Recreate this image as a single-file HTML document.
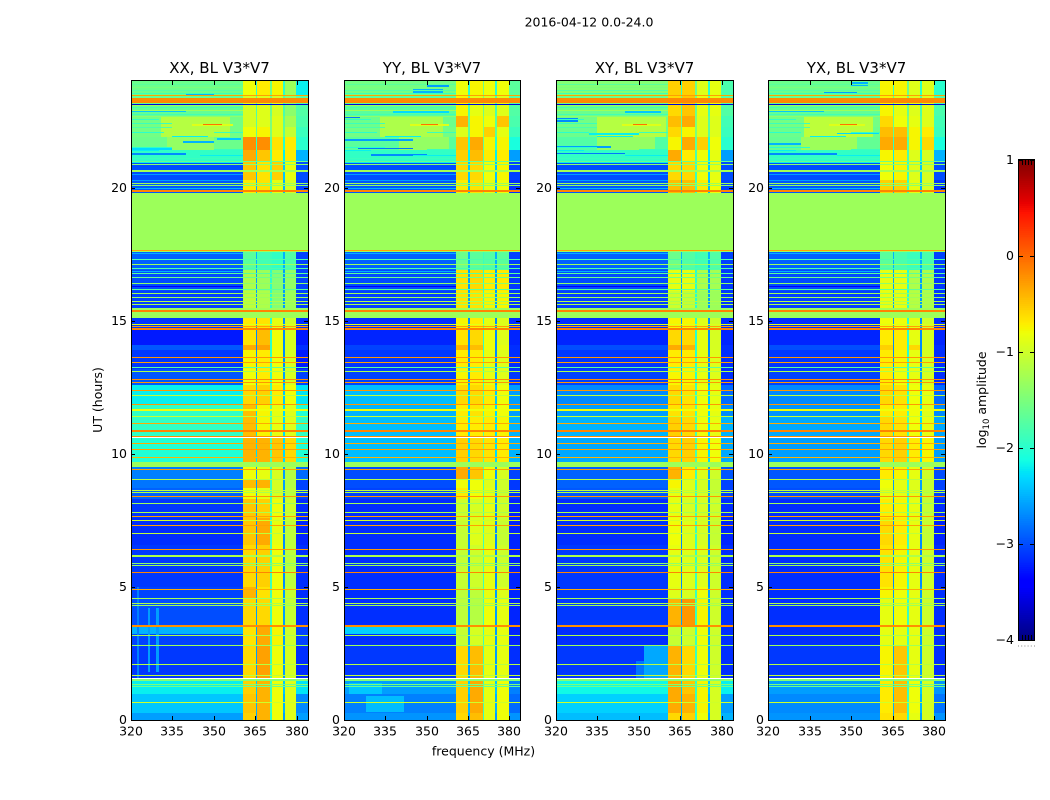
<!DOCTYPE html>
<html>
<head>
<meta charset="utf-8">
<title>2016-04-12 amplitude waterfall</title>
<style>
html,body{margin:0;padding:0;background:#fff;width:1050px;height:800px;overflow:hidden}
svg{display:block}
text{font-family:"DejaVu Sans","Liberation Sans",sans-serif;fill:#000}
</style>
</head>
<body>
<svg id="figure" xmlns="http://www.w3.org/2000/svg" width="1050" height="800" viewBox="0 0 1050 800">
<rect x="0" y="0" width="1050" height="800" fill="#fff"/>
<text x="589" y="26.5" font-size="12.5" text-anchor="middle">2016-04-12 0.0-24.0</text>
<text x="102" y="400" font-size="12.5" text-anchor="middle" transform="rotate(-90 102 400)">UT (hours)</text>
<text x="483.5" y="755.5" font-size="12.5" text-anchor="middle">frequency (MHz)</text>
<text x="986" y="400" font-size="12.5" text-anchor="middle" transform="rotate(-90 986 400)">log<tspan font-size="8.5" dy="3">10</tspan><tspan dy="-3"> amplitude</tspan></text>
<g id="panels"></g>
<g id="colorbar"></g>
</svg>
<script>
// ---- data: log10 amplitude ----
const panelTitles = ["XX, BL V3*V7", "YY, BL V3*V7", "XY, BL V3*V7", "YX, BL V3*V7"];
const freqTicks = [320, 335, 350, 365, 380];
const utTicks = [0, 5, 10, 15, 20];
const colorbarTicks = [1, 0, -1, -2, -3, -4];
const colorbarMinorTicks = [0.2, 0.4, 0.6, 0.8];
const freqDomain = [320, 384];
const utDomain = [0, 24];
const ampDomain = [-4, 1];

// frequency edges of the column groups, MHz
const bgChannels = [320, 360.6];
const band1Channels = [360.6, 365.1];
const slit1Channels = [365.1, 365.6];
const band2Channels = [365.6, 370.3];
const slit2Channels = [370.3, 370.9];
const band3Channels = [370.9, 374.9];
const slit3Channels = [374.9, 375.7];
const band4Channels = [375.7, 379.9];
const rightChannels = [379.9, 384];

// time edges of the rows, hours
const utEdges = [0,.25,1,1.55,2.8,3.5,4.6,5,6.6,7.6,8.3,8.7,9,9.5,9.7,10.6,11.4,11.9,12.6,13.2,13.9,14.1,14.7,15.1,15.45,16.1,16.9,17.6,19.8,20.3,21,21.4,21.9,22.3,22.7,23.45,24];

// notch channel amplitudes per row, shared by the panels
const slitOuter = [-2.6,-2.5,-2.4,-2.6,-2.6,-2.6,-2.6,-2.7,-2.7,-2.7,-2.6,-2.6,-2.6,-1.3,-2.3,-2.3,-2.3,-2.4,-2.6,-2.7,-2.7,-2.7,-2.7,-1.3,-2.6,-2.6,-2.5,-1.3,-2.5,-2.4,-2.2,-2.0,-1.7,-1.7,-1.8,-2.0];
const slitInner = [-2.0,-1.9,-1.9,-1.9,-1.9,-1.9,-1.9,-1.9,-1.9,-1.9,-1.9,-1.9,-1.9,-1.3,-1.8,-1.8,-1.8,-1.9,-2.0,-2.0,-2.0,-2.0,-2.0,-1.3,-2.0,-2.0,-1.9,-1.3,-1.9,-1.9,-1.8,-1.7,-1.5,-1.5,-1.6,-1.6];

// rows: [background, band1, band2, band3, band4, right edge]
const rowsXX = [
[-2.6,-.55,-.4,-.8,-.9,-2.6],[-2.4,-.5,-.4,-.8,-.9,-2.7],[-2.2,-.55,-.4,-.8,-.9,-2.25],[-3.1,-.6,-.3,-.8,-.95,-3.15],
[-3.05,-.65,-.35,-.75,-1,-3.05],[-3,-.6,-.6,-.8,-1.05,-3.15],[-3.05,-.4,-.65,-.8,-1.05,-3.15],[-3.1,-.6,-.55,-.8,-1.1,-3.15],
[-3.15,-.5,-.35,-.85,-1.1,-3.2],[-3.1,-.5,-.55,-.8,-1,-3.15],[-2.9,-.8,-.85,-.95,-1.1,-3.05],[-2.8,-.45,-.4,-.95,-1.15,-3.05],
[-2.75,-.8,-.85,-.95,-1.15,-2.85],[-1.3,-1.3,-1.3,-1.3,-1.3,-1.3],[-2.05,-.4,-.4,-.5,-.6,-2.05],[-1.95,-.45,-.75,-.85,-.9,-1.95],
[-1.95,-.45,-.75,-.85,-.9,-2.05],[-2.2,-.6,-.55,-.7,-.8,-2.25],[-2.95,-.8,-.7,-.8,-.95,-3.05],[-3.1,-.75,-.7,-.8,-.95,-3.25],
[-2.95,-.35,-.3,-.8,-.95,-3.15],[-3.25,-.65,-.45,-.8,-.95,-3.25],[-3.1,-.7,-.65,-.85,-1,-3.15],[-1.3,-1.3,-1.3,-1.3,-1.3,-1.3],
[-3.05,-1.1,-1.2,-1.45,-1.3,-3.05],[-3,-1.2,-1.3,-1.45,-1.35,-3.05],[-2.9,-1.7,-1.85,-1.95,-1.75,-3.05],[-1.3,-1.3,-1.3,-1.3,-1.3,-1.3],
[-2.95,-.7,-.65,-.85,-.95,-3.05],[-3,-.5,-.65,-.55,-.85,-3],[-1.95,-.35,-.5,-.7,-.7,-2.5],[-1.6,-.2,-.2,-.65,-.7,-2],
[-1.55,-.8,-.75,-.9,-1.05,-1.9],[-1.55,-.95,-.9,-.9,-1.25,-1.8],[-1.65,-.95,-.9,-.95,-1.4,-1.75],[-1.6,-.8,-.7,-.75,-1.3,-2.2]];

const rowsYY = [
[-2.65,-.6,-.45,-.85,-.8,-2.65],[-2.75,-.55,-.35,-.85,-.8,-2.85],[-2.6,-.55,-.35,-.85,-.8,-2.75],[-3.1,-.6,-.45,-.85,-.85,-3.15],
[-3.15,-1.05,-.95,-.85,-.85,-3.2],[-3.15,-1.1,-1.15,-.8,-.85,-3.2],[-3.15,-1.1,-1.1,-.85,-.9,-3.2],[-3.15,-1.05,-1,-.85,-1,-3.2],
[-3.15,-1.05,-.9,-.9,-1.05,-3.2],[-3.15,-1,-.95,-.85,-1,-3.2],[-3.05,-.7,-.8,-.85,-1,-3.1],[-3,-.8,-.8,-.9,-1,-3.1],
[-3,-.35,-.5,-.8,-.95,-3.05],[-1.3,-1.3,-1.3,-1.3,-1.3,-1.3],[-2.45,-.55,-.6,-.65,-.7,-2.5],[-2.45,-.7,-.7,-.7,-.75,-2.5],
[-2.5,-.7,-.65,-.75,-.8,-2.6],[-2.45,-.6,-.6,-.7,-.8,-2.6],[-3.05,-.75,-.7,-.85,-.9,-3.1],[-3.1,-.7,-.7,-.85,-.9,-3.15],
[-3.05,-.4,-.45,-.8,-.85,-3.15],[-3.2,-.65,-.6,-.8,-.9,-3.2],[-3.15,-.75,-.7,-.85,-.9,-3.15],[-1.3,-1.3,-1.3,-1.3,-1.3,-1.3],
[-3.05,-.65,-.65,-.75,-.75,-3.1],[-3,-.65,-.6,-.7,-.7,-3.1],[-2.9,-1.6,-1.7,-1.75,-1.7,-3.05],[-1.3,-1.3,-1.3,-1.3,-1.3,-1.3],
[-2.95,-.7,-.65,-.85,-.8,-3.15],[-3,-.6,-.6,-.8,-.75,-3.05],[-1.95,-.55,-.45,-.7,-.7,-2.6],[-1.7,-.5,-.35,-.75,-.75,-2.1],
[-1.55,-.9,-.75,-.55,-.85,-1.9],[-1.6,-.4,-.75,-.8,-.5,-1.8],[-1.7,-.75,-.85,-.9,-.9,-1.75],[-1.55,-.8,-.75,-.8,-.8,-1.7]];

const rowsXY = [
[-2.45,-.6,-.55,-.8,-.95,-2.5],[-2.35,-.35,-.4,-.75,-.95,-2.6],[-2.15,-.35,-.5,-.75,-.95,-2.2],[-3.1,-.4,-.6,-.8,-1,-3.15],
[-3.15,-1.05,-1,-.8,-1,-3.15],[-3.1,-.4,-.25,-.75,-1,-3.15],[-3.1,-.9,-.95,-.8,-1,-3.15],[-3.1,-.85,-.9,-.9,-1,-3.15],
[-3.15,-.8,-.9,-.95,-1.05,-3.2],[-3.15,-.85,-.95,-.95,-1,-3.15],[-2.95,-.85,-.9,-.95,-1.05,-3.05],[-2.9,-.75,-.9,-.95,-1.05,-3.05],
[-2.9,-.4,-.7,-.9,-1,-2.95],[-1.3,-1.3,-1.3,-1.3,-1.3,-1.3],[-2.55,-.6,-.55,-.75,-.8,-2.55],[-2.5,-.55,-.6,-.8,-.85,-2.5],
[-2.6,-.65,-.65,-.8,-.85,-2.7],[-2.7,-.6,-.65,-.8,-.85,-2.85],[-3.05,-.75,-.75,-.85,-.9,-3.15],[-3.1,-.7,-.7,-.85,-.9,-3.15],
[-3,-.35,-.4,-.85,-.95,-3.15],[-3.2,-.6,-.6,-.85,-.95,-3.2],[-3.15,-.75,-.75,-.9,-1,-3.15],[-1.3,-1.3,-1.3,-1.3,-1.3,-1.3],
[-3.05,-1,-1.05,-1.3,-1.3,-3.1],[-3,-.85,-.85,-1.2,-1.25,-3.1],[-2.9,-1.6,-1.75,-1.85,-1.75,-3.05],[-1.3,-1.3,-1.3,-1.3,-1.3,-1.3],
[-2.95,-.45,-.45,-.7,-.8,-3.05],[-3,-.6,-.6,-.8,-.85,-3],[-1.95,-.35,-.7,-.8,-.85,-2.6],[-1.75,-.75,-.35,-.55,-.8,-2],
[-1.6,-.6,-.75,-.9,-.9,-1.9],[-1.55,-.45,-.35,-.9,-.9,-1.85],[-1.6,-.6,-.5,-.85,-.85,-1.75],[-1.45,-.55,-.55,-.9,-.85,-1.8]];

const rowsYX = [
[-2.65,-.65,-.6,-.85,-.95,-2.65],[-2.7,-.7,-.45,-.8,-.95,-2.8],[-2.6,-.7,-.45,-.8,-.95,-2.65],[-3.1,-.75,-.5,-.85,-1,-3.15],
[-3.15,-.85,-.85,-.85,-1,-3.15],[-3.15,-.85,-.8,-.85,-1,-3.15],[-3.15,-.75,-.8,-.85,-1,-3.15],[-3.15,-.65,-.75,-.85,-1,-3.15],
[-3.15,-.6,-.7,-.85,-1.05,-3.2],[-3.15,-.7,-.75,-.85,-1.05,-3.15],[-3,-.85,-.85,-.9,-1.05,-3.05],[-2.95,-.8,-.85,-.9,-1.05,-3.05],
[-2.95,-.7,-.75,-.85,-1,-3],[-1.3,-1.3,-1.3,-1.3,-1.3,-1.3],[-2.6,-.6,-.55,-.7,-.75,-2.6],[-2.55,-.6,-.65,-.8,-.85,-2.55],
[-2.65,-.7,-.7,-.8,-.9,-2.7],[-2.7,-.6,-.65,-.8,-.85,-2.85],[-3.05,-.7,-.8,-.85,-.95,-3.15],[-3.1,-.7,-.75,-.85,-.95,-3.15],
[-3,-.55,-.7,-.6,-.95,-3.15],[-3.2,-.7,-.7,-.85,-.95,-3.2],[-3.15,-.8,-.8,-.85,-1,-3.15],[-1.3,-1.3,-1.3,-1.3,-1.3,-1.3],
[-3.05,-.85,-.85,-1.15,-1.2,-3.1],[-3,-.85,-.85,-1.2,-1.2,-3.1],[-2.9,-1.7,-1.8,-1.9,-1.8,-3.05],[-1.3,-1.3,-1.3,-1.3,-1.3,-1.3],
[-2.95,-.55,-.55,-.85,-.95,-3.1],[-3,-.8,-.75,-.9,-.95,-3],[-1.95,-.75,-.7,-.9,-.95,-2.5],[-1.65,-.35,-.35,-.75,-.6,-2.1],
[-1.6,-.45,-.45,-.75,-.7,-1.9],[-1.55,-.6,-.8,-.85,-.9,-1.85],[-1.65,-.75,-.85,-.9,-.9,-1.8],[-1.6,-.75,-.75,-.9,-.9,-2]];

const panelRows = [rowsXX, rowsYY, rowsXY, rowsYX];

// full-width interference lines: [UT hour, duration in hours, amplitude]
const rfiLines = [
[.66,.04,-1],[1.25,.04,-1.6],[1.34,.04,-1.5],[1.5,.08,-1.45],[1.67,.04,-1.1],[2.09,.04,-1.15],[2.8,.04,-1.3],[3.19,.04,-1.2],[3.52,.09,-.2],
[4.29,.04,-1.3],[4.36,.04,-1.2],[4.55,.04,-1.25],[4.9,.04,-.35],[5.54,.04,-.15],[5.79,.04,-1.3],[5.875,.04,-1.4],[6.15,.08,-1.2],[6.4,.04,-.25],
[7,.04,-1.1],[7.3,.04,-.3],[7.5,.04,-1],[7.66,.04,-.3],[7.81,.04,-1.2],[8.12,.04,-1.3],[8.4,.04,-.25],[8.55,.04,-1.2],[8.62,.04,-1.1],
[9.05,.04,-1.15],[9.4,.04,-.3],[9.87,.04,-.4],[10.15,.04,-.3],[10.37,.04,-.35],[10.66,.04,-.2],[10.86,.09,-.15],[11.12,.04,-.35],[11.4,.04,-1.05],
[11.65,.07,-.8],[11.84,.04,-.25],[12.17,.04,-1.1],[12.36,.04,-.25],[12.66,.04,-.25],[12.8,.04,-.2],[13.1,.04,-1.2],[13.25,.03,-1.7],[13.44,.04,-.3],[13.62,.04,-.25],
[14.68,.08,-.15],[14.79,.04,-.3],[14.87,.04,-.9],[15.37,.07,-.15],[15.47,.04,-1.3],[15.6,.04,-1.25],[15.72,.04,-1.2],[15.87,.04,-1.3],[16.02,.04,-1.3],[16.15,.04,-1.7],
[16.4,.04,-1.4],[16.6,.04,-1.6],[16.75,.04,-1.7],[16.95,.04,-1.8],[17.12,.04,-1.3],[17.3,.04,-1.8],[17.62,.04,-.3],
[19.85,.08,-.15],[20.07,.04,-1.4],[20.16,.04,-1.3],[20.62,.08,-1.25],[20.85,.04,-1.4],[20.97,.04,-1.6],[23.12,.05,-3.6],[23.27,.2,-.18],[23.44,.04,-.3]];

// stripes shared by all panels: [UT hour, duration, start MHz, end MHz, amplitude]
const topStripes = [
[23.87,.05,320,360.6,-1.7],[23.75,.05,320,360.6,-1.5],[23.62,.05,320,360.6,-1.75],[23.52,.04,320,360.6,-1.9],
[23.06,.05,320,360.6,-1.3],[23,.04,320,360.6,-1.8],[22.9,.05,320,360.6,-1.3],[22.75,.05,320,360.6,-1.85],[22.67,.04,320,360.6,-1.4],
[22.53,.05,320,330,-1.95],[22.38,.05,320,335,-1.9],[22.25,.05,320,335,-1.8],[22.06,.05,320,332,-2],[22.06,.04,350,360.6,-1.9],
[21.9,.04,335,348,-2.2],[21.5,.05,320,335,-2],[21.44,.04,350,360.6,-1.9],[21.37,.05,320,330,-2.2],[21.19,.05,345,360.6,-2.2],[21.1,.04,320,360.6,-1.9],
[20.95,.04,320,360.6,-2.2],[20.5,.04,320,360.6,-2.6],[20.28,.04,320,360.6,-2.6],[19.97,.04,320,360.6,-2.5],[16.85,.05,320,360.6,-2.5],[17.5,.05,320,360.6,-2.5],[16.28,.05,320,360.6,-3.4]];

// detail patches: [panel, start hour, end hour, start MHz, end MHz, amplitude]
const detailPatches = [
[0,3.25,3.5,320,360.6,-2.5],[1,3.25,3.5,320,360.6,-2.35],[1,.3,.9,328,342,-2.45],[1,1,1.4,322,334,-2.4],
[2,1.55,2.8,352,360.6,-2.55],[2,1.55,2.2,349,352,-2.8],[0,1.8,4.2,326,327,-2.6],[0,1.8,4.2,329,330,-2.6],[0,1.6,5,322,323,-2.75],
[0,21.9,22.7,331,356,-1.15],[0,21.4,21.9,333,350,-1.35],[0,22.33,22.4,342,357,-.9],[0,22.35,22.39,346,353,-.05],
[1,21.9,22.7,333,356,-1.2],[1,21.4,21.9,340,358,-1.35],[1,22.33,22.4,344,358,-.9],[1,22.35,22.39,348,354,-.05],
[2,21.9,22.7,335,360,-1.15],[2,21.4,21.9,335,356,-1.35],[2,22.33,22.4,344,358,-.9],[2,22.35,22.39,348,353,-.05],
[3,21.9,22.7,333,358,-1.1],[3,21.4,21.9,332,352,-1.3],[3,22.33,22.4,342,355,-.9],[3,22.35,22.39,346,352,-.05],
[0,22.84,22.9,320,340,-2.4],[0,21.7,21.76,339,350,-2.5],[0,21.8,21.86,351,360,-2.4],[0,21.22,21.29,320,340,-2.7],[0,21.42,21.48,320,335,-2.3],[0,23.5,23.56,340,350,-2.5],
[1,23.55,23.7,345,356,-2.5],[1,23.75,23.9,350,358,-2.6],[1,22.6,22.68,320,326,-2.8],[1,21.75,21.82,320,345,-2.6],[1,21.45,21.5,325,345,-2.8],[1,21.2,21.26,330,350,-2.7],[1,22.8,22.86,338,358,-2.3],
[2,22.45,22.6,320,328,-2.7],[2,21.5,21.56,320,340,-2.6],[2,21.25,21.3,320,345,-2.8],[2,22.8,22.86,345,358,-2.4],[2,22.0,22.06,332,350,-2.2],
[3,23.5,23.58,340,352,-2.6],[3,23.8,23.95,350,356,-2.5],[3,21.22,21.3,320,345,-2.7],[3,21.6,21.66,320,332,-2.5],[3,22.85,22.92,320,340,-2.4],[3,22.0,22.05,345,360,-2.3]];

// ---- axis setup ----
const panelLefts = [131, 343.7, 556, 768.3];
const panelWidth = 176.7;
const plotTop = 81;
const plotBottom = 720;
const cbLeft = 1019;
const cbRight = 1034;
const cbTop = 160;
const cbBottom = 640;
const svgNS = "http://www.w3.org/2000/svg";
const panelsRoot = document.getElementById("panels");
const cbRoot = document.getElementById("colorbar");

function xScale(panel, mhz) {
  return panelLefts[panel] + (mhz - freqDomain[0]) / (freqDomain[1] - freqDomain[0]) * panelWidth;
}
function yScale(hour) {
  return plotBottom - (hour - utDomain[0]) / (utDomain[1] - utDomain[0]) * (plotBottom - plotTop);
}
function ampY(value) {
  return cbBottom - (value - ampDomain[0]) / (ampDomain[1] - ampDomain[0]) * (cbBottom - cbTop);
}
function piece(stops, f) {
  for (let i = 1; i < stops.length; i++) {
    if (f <= stops[i][0]) {
      const a = stops[i - 1];
      const b = stops[i];
      return a[1] + (b[1] - a[1]) * (f - a[0]) / (b[0] - a[0]);
    }
  }
  return stops[stops.length - 1][1];
}
const jetRed = [[0,0],[.35,0],[.66,1],[.89,1],[1,.5]];
const jetGreen = [[0,0],[.125,0],[.375,1],[.64,1],[.91,0],[1,0]];
const jetBlue = [[0,.5],[.11,1],[.34,1],[.65,0],[1,0]];
function colorOf(value) {
  const f = Math.min(1, Math.max(0, (value - ampDomain[0]) / (ampDomain[1] - ampDomain[0])));
  const r = Math.round(255 * piece(jetRed, f));
  const g = Math.round(255 * piece(jetGreen, f));
  const b = Math.round(255 * piece(jetBlue, f));
  return "rgb(" + r + "," + g + "," + b + ")";
}
function drawCell(parent, panel, f0, f1, t0, t1, value, name) {
  const r = document.createElementNS(svgNS, "rect");
  const x0 = Math.round(xScale(panel, f0));
  const x1 = Math.round(xScale(panel, f1));
  const y0 = Math.round(yScale(t1));
  const h = Math.max(1, Math.round(yScale(t0) - yScale(t1)));
  r.setAttribute("x", x0);
  r.setAttribute("y", y0);
  r.setAttribute("width", Math.max(1, x1 - x0));
  r.setAttribute("height", h);
  r.setAttribute("fill", colorOf(value));
  
  
  parent.appendChild(r);
}
function drawLine(parent, x1, y1, x2, y2, name) {
  const l = document.createElementNS(svgNS, "line");
  l.setAttribute("x1", x1);
  l.setAttribute("y1", y1);
  l.setAttribute("x2", x2);
  l.setAttribute("y2", y2);
  l.setAttribute("stroke", "#000");
  l.setAttribute("stroke-width", "1");
  l.setAttribute("shape-rendering", "crispEdges");
  
  
  parent.appendChild(l);
}
function drawText(parent, x, y, str, size, anchor, name) {
  const t = document.createElementNS(svgNS, "text");
  t.setAttribute("x", x);
  t.setAttribute("y", y);
  t.setAttribute("font-size", size);
  t.setAttribute("text-anchor", anchor);
  t.textContent = str;
  
  
  parent.appendChild(t);
}

// ---- panels ----
panelTitles.forEach(function (title, p) {
  const g = document.createElementNS(svgNS, "g");
  
  
  g.setAttribute("shape-rendering", "crispEdges");
  panelsRoot.appendChild(g);
  const rows = panelRows[p];
  rows.forEach(function (row, i) {
    const t0 = utEdges[i];
    const t1 = utEdges[i + 1];
    drawCell(g, p, bgChannels[0], bgChannels[1], t0, t1, row[0], 'heatmap-cell');
    drawCell(g, p, band1Channels[0], band1Channels[1], t0, t1, row[1], 'heatmap-cell');
    drawCell(g, p, slit1Channels[0], slit1Channels[1], t0, t1, slitOuter[i], 'heatmap-cell');
    drawCell(g, p, band2Channels[0], band2Channels[1], t0, t1, row[2], 'heatmap-cell');
    drawCell(g, p, slit2Channels[0], slit2Channels[1], t0, t1, slitInner[i], 'heatmap-cell');
    drawCell(g, p, band3Channels[0], band3Channels[1], t0, t1, row[3], 'heatmap-cell');
    drawCell(g, p, slit3Channels[0], slit3Channels[1], t0, t1, slitOuter[i], 'heatmap-cell');
    drawCell(g, p, band4Channels[0], band4Channels[1], t0, t1, row[4], 'heatmap-cell');
    drawCell(g, p, rightChannels[0], rightChannels[1], t0, t1, row[5], 'heatmap-cell');
  });
  detailPatches.forEach(function (d) {
    if (d[0] === p) {
      drawCell(g, p, d[3], d[4], d[1], d[2], d[5], 'heatmap-detail');
    }
  });
  topStripes.forEach(function (s) {
    drawCell(g, p, s[2], s[3], s[0] - s[1] / 2, s[0] + s[1] / 2, s[4], 'heatmap-stripe');
  });
  rfiLines.forEach(function (l) {
    drawCell(g, p, freqDomain[0], freqDomain[1], l[0] - l[1] / 2, l[0] + l[1] / 2, l[2], 'interference-line');
  });

  const left = Math.round(xScale(p, freqDomain[0]));
  const right = Math.round(xScale(p, freqDomain[1]));
  const frame = document.createElementNS(svgNS, "rect");
  frame.setAttribute("x", left + .5);
  frame.setAttribute("y", plotTop - .5);
  frame.setAttribute("width", right - left);
  frame.setAttribute("height", plotBottom - plotTop + 1);
  frame.setAttribute("fill", "none");
  frame.setAttribute("stroke", "#000");
  
  
  g.appendChild(frame);

  freqTicks.forEach(function (tick) {
    const x = Math.round(xScale(p, tick)) + .5;
    drawLine(g, x, plotBottom, x, plotBottom - 4, 'x-tick');
    drawLine(g, x, plotTop, x, plotTop + 4, 'x-tick-top');
    drawText(panelsRoot, x - .5, plotBottom + 15.5, String(tick), 12.5, "middle", 'x-tick-label');
  });
  utTicks.forEach(function (tick) {
    const y = Math.round(yScale(tick)) + .5;
    drawLine(g, left, y, left + 4, y, 'y-tick');
    drawLine(g, right, y, right - 4, y, 'y-tick-right');
    drawText(panelsRoot, left - 4, y + 3.5, String(tick), 12.5, "end", 'y-tick-label');
  });
  drawText(panelsRoot, (left + right) / 2, 73, title, 15, "middle", 'panel-title');
});

// ---- colorbar ----
for (let v = ampDomain[1]; v > ampDomain[0]; v -= 0.02) {
  const r = document.createElementNS(svgNS, "rect");
  r.setAttribute("x", cbLeft);
  r.setAttribute("y", ampY(v).toFixed(2));
  r.setAttribute("width", cbRight - cbLeft);
  r.setAttribute("height", "2.2");
  r.setAttribute("fill", colorOf(v - 0.01));
  r.setAttribute("shape-rendering", "crispEdges");
  
  
  cbRoot.appendChild(r);
}
const cbFrame = document.createElementNS(svgNS, "rect");
cbFrame.setAttribute("x", cbLeft - .5);
cbFrame.setAttribute("y", cbTop - .5);
cbFrame.setAttribute("width", cbRight - cbLeft + 1);
cbFrame.setAttribute("height", cbBottom - cbTop + 1);
cbFrame.setAttribute("fill", "none");
cbFrame.setAttribute("stroke", "#000");
cbFrame.setAttribute("shape-rendering", "crispEdges");


cbRoot.appendChild(cbFrame);
colorbarTicks.forEach(function (tick) {
  const y = Math.round(ampY(tick)) + .5;
  drawLine(cbRoot, cbLeft, y, cbLeft + 4, y, 'colorbar-tick');
  drawLine(cbRoot, cbRight, y, cbRight - 4, y, 'colorbar-tick-right');
  const label = tick < 0 ? "\u2212" + Math.abs(tick) : String(tick);
  drawText(cbRoot, cbLeft - 5, y + 3.5, label, 12.5, "end", 'colorbar-tick-label');
});
colorbarMinorTicks.forEach(function (frac) {
  const x = Math.round(cbLeft + frac * (cbRight - cbLeft)) + .5;
  drawLine(cbRoot, x, cbTop, x, cbTop + 5, 'colorbar-minor-tick-top');
  drawLine(cbRoot, x, cbBottom, x, cbBottom - 5, 'colorbar-minor-tick-bottom');
});
[0, 0.2, 0.4, 0.6, 0.8, 1].forEach(function (frac) {
  const dot = document.createElementNS(svgNS, "rect");
  dot.setAttribute("x", cbLeft - 1 + frac * (cbRight - cbLeft + 1));
  dot.setAttribute("y", cbBottom + 5.5);
  dot.setAttribute("width", "1");
  dot.setAttribute("height", "1");
  dot.setAttribute("fill", "#888");
  
  
  cbRoot.appendChild(dot);
});
</script>
</body>
</html>
